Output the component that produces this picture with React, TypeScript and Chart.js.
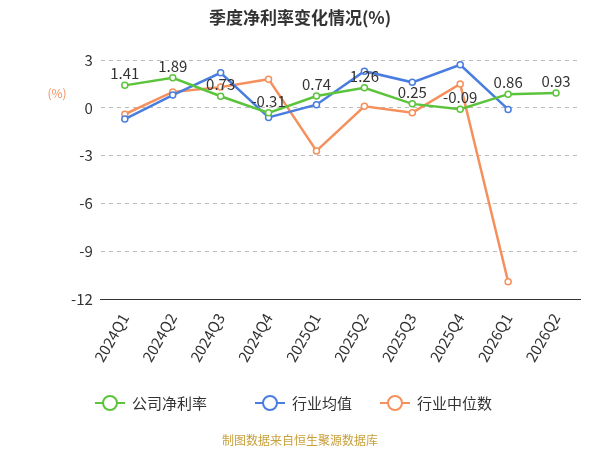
import React, { useEffect, useRef } from "react";
import { Chart, registerables } from "chart.js";
Chart.register(...registerables);

const categories = ["2024Q1","2024Q2","2024Q3","2024Q4","2025Q1","2025Q2","2025Q3","2025Q4","2026Q1","2026Q2"];
const company = [1.41,1.89,0.73,-0.31,0.74,1.26,0.25,-0.09,0.86,0.93];
const industryMean = [-0.7,0.8,2.2,-0.6,0.2,2.3,1.6,2.7,-0.1,null];
const industryMedian = [-0.4,1.0,1.3,1.8,-2.7,0.1,-0.3,1.5,-10.9,null];
const yTicks = [3,0,-3,-6,-9,-12];

const GREEN = "#5cc43c", BLUE = "#4a7de0", ORANGE = "#f5905c";
const FONT = "'Noto Sans CJK SC', 'Noto Sans', sans-serif";

export default function App() {
  const ref = useRef<HTMLCanvasElement>(null);
  useEffect(() => {
    document.body.style.margin = "0";
    const extras = {
      id: "extras",
      afterDraw(chart: any) {
        const ctx = chart.ctx;
        const xs = chart.scales.x, ys = chart.scales.y;
        ctx.save();
        ctx.textAlign = "center";
        ctx.fillStyle = "#333";
        ctx.font = `bold 17px ${FONT}`;
        ctx.fillText("季度净利率变化情况(%)", 300, 24);
        ctx.fillStyle = ORANGE;
        ctx.font = `12px ${FONT}`;
        ctx.fillText("(%)", 57, 98);
        ctx.fillStyle = "#333";
        ctx.font = `15px ${FONT}`;
        company.forEach((v, i) => {
          ctx.fillText(v.toFixed(2), xs.getPixelForValue(i), ys.getPixelForValue(v) - 6);
        });
        const items = [["公司净利率", GREEN, 95], ["行业均值", BLUE, 255], ["行业中位数", ORANGE, 380]] as const;
        ctx.textAlign = "left";
        ctx.textBaseline = "middle";
        ctx.font = `15px ${FONT}`;
        items.forEach(([label, c, x]) => {
          const y = 403;
          ctx.strokeStyle = c; ctx.lineWidth = 2;
          ctx.beginPath(); ctx.moveTo(x, y); ctx.lineTo(x + 30, y); ctx.stroke();
          ctx.beginPath(); ctx.arc(x + 15, y, 7, 0, Math.PI * 2);
          ctx.fillStyle = "#fff"; ctx.fill(); ctx.stroke();
          ctx.fillStyle = "#333";
          ctx.fillText(label, x + 37, y);
        });
        ctx.textAlign = "center";
        ctx.fillStyle = "#c9a13c";
        ctx.font = `12px ${FONT}`;
        ctx.fillText("制图数据来自恒生聚源数据库", 300, 440);
        ctx.restore();
      },
    };
    const mk = (label: string, data: any[], c: string) => ({
      label, data, borderColor: c, backgroundColor: "#fff", borderWidth: 2.5,
      pointRadius: 3, pointBorderWidth: 1.5, pointBackgroundColor: "#fff", pointBorderColor: c, tension: 0,
    });
    const chart = new Chart(ref.current!, {
      type: "line",
      data: {
        labels: categories,
        datasets: [mk("公司净利率", company, GREEN), mk("行业均值", industryMean, BLUE), mk("行业中位数", industryMedian, ORANGE)],
      },
      options: {
        animation: false, responsive: false,
        layout: { padding: { top: 60, right: 20, bottom: 82, left: 63 } },
        plugins: { legend: { display: false }, tooltip: { enabled: false } },
        scales: {
          x: {
            offset: true,
            grid: { display: false },
            border: { color: "#333" },
            ticks: { color: "#333", font: { size: 15, family: FONT }, maxRotation: 60, minRotation: 60 },
          },
          y: {
            min: -12, max: 3,
            afterBuildTicks: (ax: any) => { ax.ticks = yTicks.map((v) => ({ value: v })); },
            grid: { color: "#bbb", drawTicks: false },
            border: { display: false, dash: [4, 4] },
            ticks: { color: "#333", font: { size: 15, family: FONT }, padding: 8 },
          },
        },
      },
      plugins: [extras],
    } as any);
    return () => chart.destroy();
  }, []);
  return <canvas ref={ref} width={600} height={450} style={{ display: "block" }} />;
}
